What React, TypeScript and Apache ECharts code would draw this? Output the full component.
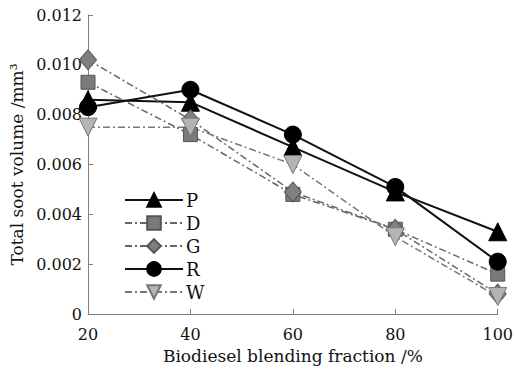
import React, { useEffect, useRef } from "react";
import * as echarts from "echarts";

// Biodiesel blending fraction (%)
const blendFractions = [20, 40, 60, 80, 100];

// Total soot volume (mm³) per fuel
const seriesNames = ["P", "D", "G", "R", "W"];
const sootP = [0.0086, 0.0085, 0.0067, 0.0049, 0.0033];
const sootD = [0.0093, 0.0072, 0.0048, 0.0034, 0.0016];
const sootG = [0.0102, 0.0078, 0.0049, 0.0034, 0.0008];
const sootR = [0.0083, 0.009, 0.0072, 0.0051, 0.0021];
const sootW = [0.0075, 0.0075, 0.006, 0.0031, 0.0007];

const FONT = "DejaVu Serif";
const dashDot = [7, 3, 2, 3];

export default function App() {
  const ref = useRef<HTMLDivElement>(null);

  useEffect(() => {
    if (!ref.current) return;
    const chart = echarts.init(ref.current, undefined, { renderer: "svg" });

    const pairs = (vals: number[]) => blendFractions.map((x, i) => [x, vals[i]]);

    const mk = (
      name: string,
      vals: number[],
      symbol: string,
      size: number | number[],
      fill: string,
      border: string,
      lineColor: string,
      lineWidth: number,
      dash: any,
      rotate = 0
    ) => ({
      name,
      type: "line",
      data: pairs(vals),
      symbol,
      symbolSize: size,
      symbolRotate: rotate,
      showAllSymbol: true,
      lineStyle: { color: lineColor, width: lineWidth, type: dash },
      itemStyle: { color: fill, borderColor: border, borderWidth: 1 },
      emphasis: { disabled: true },
    });

    const series = [
      mk(seriesNames[0], sootP, "triangle", 18, "#000", "#000", "#111", 2, "solid"),
      mk(seriesNames[1], sootD, "rect", 14, "#7a7a7a", "#555", "#666", 1.5, dashDot),
      mk(seriesNames[2], sootG, "diamond", [17, 20], "#808080", "#555", "#666", 1.5, dashDot),
      mk(seriesNames[3], sootR, "circle", 17, "#000", "#000", "#111", 2, "solid"),
      mk(seriesNames[4], sootW, "triangle", 18, "#b4b4b4", "#777", "#777", 1.5, dashDot, 180),
    ];

    chart.setOption({
      animation: false,
      backgroundColor: "#fff",
      textStyle: { fontFamily: FONT },
      grid: { left: 88, top: 15, right: 15, bottom: 59 },
      legend: {
        orient: "vertical",
        left: 124,
        top: 191,
        padding: 0,
        itemWidth: 58,
        itemHeight: 17,
        itemGap: 5,
        data: seriesNames,
        textStyle: { fontFamily: FONT, fontSize: 18, lineHeight: 18, color: "#111", padding: [0, 0, 0, -2] },
      },
      xAxis: {
        type: "value",
        min: 20,
        max: 100,
        interval: 20,
        name: "Biodiesel blending fraction /%",
        nameLocation: "middle",
        nameGap: 33,
        nameTextStyle: { fontFamily: FONT, fontSize: 17, color: "#111" },
        axisLine: { lineStyle: { color: "#808080", width: 1 } },
        axisTick: { inside: true, length: 5, lineStyle: { color: "#808080" } },
        axisLabel: { fontFamily: FONT, fontSize: 16, color: "#111", margin: 12 },
        splitLine: { show: false },
      },
      yAxis: {
        type: "value",
        min: 0,
        max: 0.012,
        interval: 0.002,
        name: "Total soot volume /mm³",
        nameLocation: "middle",
        nameGap: 57,
        nameTextStyle: { fontFamily: FONT, fontSize: 17, color: "#111" },
        axisLine: { show: true, lineStyle: { color: "#808080", width: 1 } },
        axisTick: { show: true, inside: true, length: 5, lineStyle: { color: "#808080" } },
        axisLabel: {
          fontFamily: FONT,
          fontSize: 16,
          color: "#111",
          margin: 6,
          formatter: (v: number) => (v === 0 ? "0" : v.toFixed(3)),
        },
        splitLine: { show: false },
      },
      series,
    });

    return () => chart.dispose();
  }, []);

  return (
    <div
      ref={ref}
      style={{ position: "absolute", left: 0, top: 0, width: 516, height: 373 }}
    />
  );
}
